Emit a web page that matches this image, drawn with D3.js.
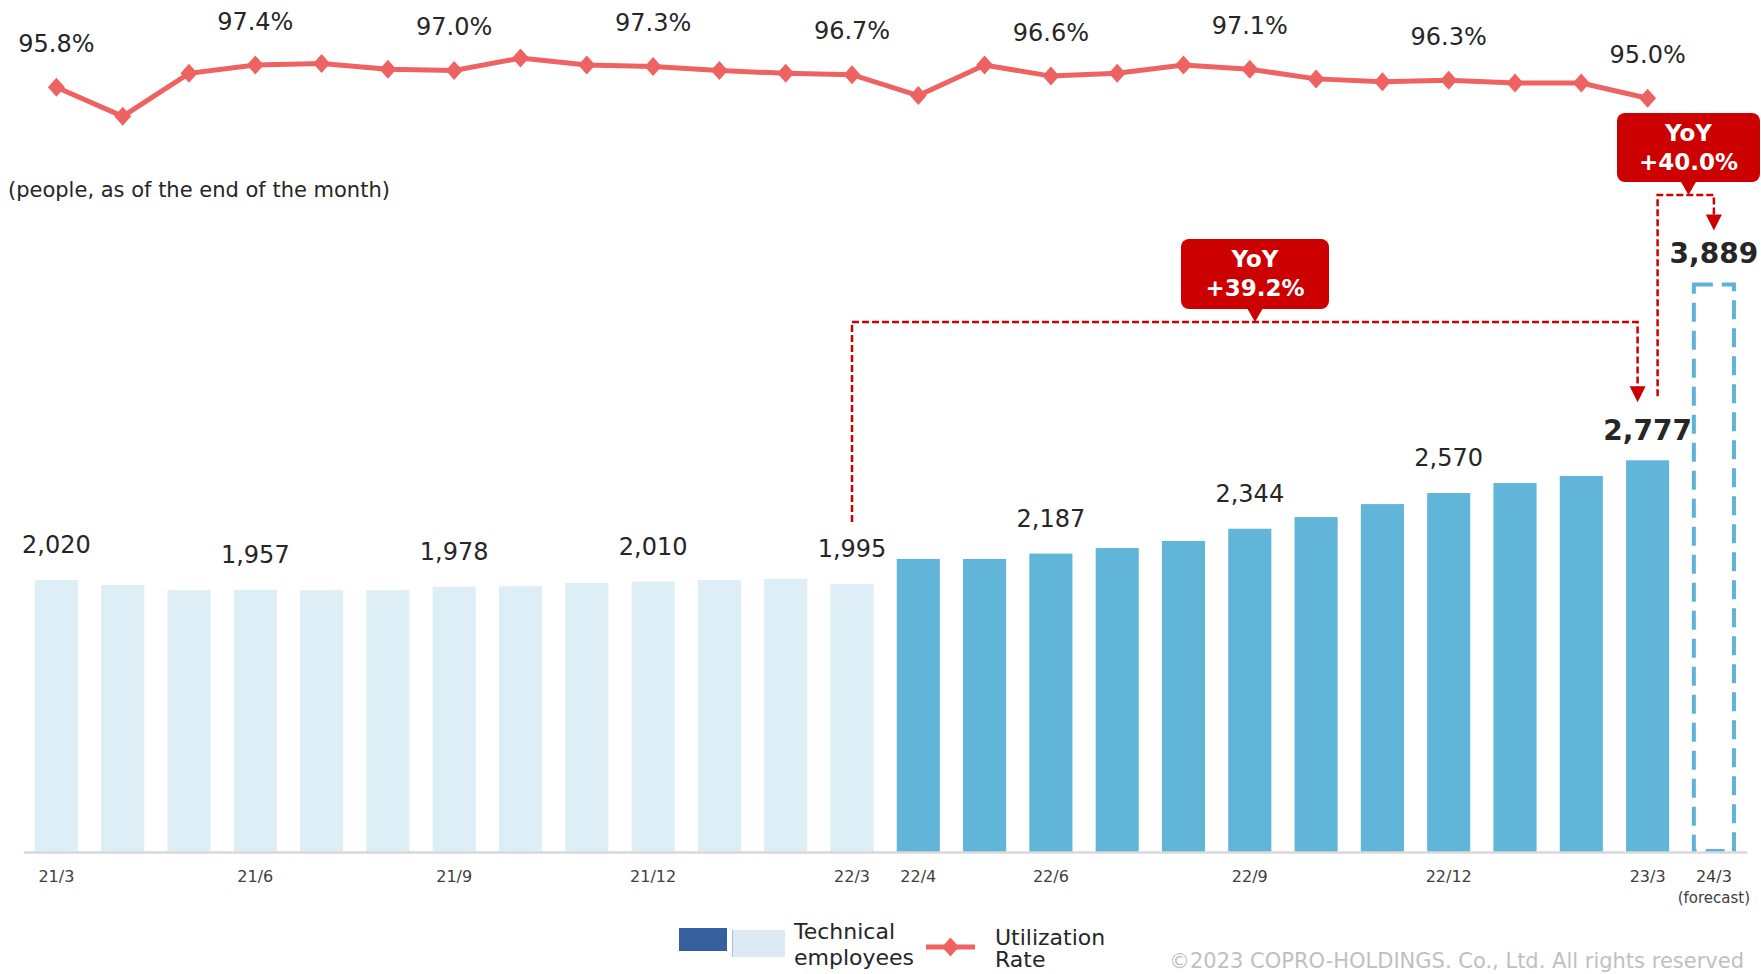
<!DOCTYPE html>
<html><head><meta charset="utf-8">
<script src="https://cdn.jsdelivr.net/npm/d3@7"></script>
<style>body{margin:0;background:#fff}svg{display:block;font-family:"DejaVu Sans",Verdana,sans-serif}</style>
</head><body><svg id="c" width="1761" height="974"></svg>
<script>
const months = ["21/3","21/4","21/5","21/6","21/7","21/8","21/9","21/10","21/11","21/12","22/1","22/2","22/3","22/4","22/5","22/6","22/7","22/8","22/9","22/10","22/11","22/12","23/1","23/2","23/3","24/3"];
const employees = [2020,1988,1956,1957,1955,1956,1978,1980,2001,2010,2020,2026,1995,2153,2153,2187,2222,2267,2344,2418,2500,2570,2633,2678,2777];
const forecastEmployees = 3889;
const utilization = [95.8,93.7,96.8,97.4,97.5,97.1,97.0,97.9,97.4,97.3,97.0,96.8,96.7,95.2,97.4,96.6,96.8,97.4,97.1,96.4,96.2,96.3,96.1,96.1,95.0];
const tickLabels = ["21/3","21/6","21/9","21/12","22/3","22/4","22/6","22/9","22/12","23/3","24/3"];
const labeledIdx = [0,3,6,9,12,15,18,21,24];
const yoyLabels = ["+39.2%","+40.0%"];

const svg = d3.select("#c");
const x = d3.scaleBand().domain(months).range([23.25, 23.25 + 26*66.3]).paddingInner(0.35).paddingOuter(0.175);
const yBar = d3.scaleLinear().domain([300, 4000]).range([852, 852 - 3700*0.15814]);
const yLine = d3.scaleLinear().domain([93, 98]).range([126.05, 56.68]);
const cx = m => x(m) + x.bandwidth()/2;
const TXT = "#262626";

// bars
const bars = employees.map((v,i)=>({m:months[i], v, i}));
svg.append("g").selectAll("rect").data(bars).join("rect")
  .attr("x", d=>x(d.m)).attr("width", x.bandwidth())
  .attr("y", d=>yBar(d.v)).attr("height", d=>yBar.range()[0]-yBar(d.v))
  .attr("fill", d=> d.i<=12 ? "#ddeef6" : "#61b5d8");

// forecast dashed bar
const fm = months[25];
svg.append("rect").attr("x", x(fm)+1.5).attr("width", x.bandwidth()-3)
  .attr("y", yBar(forecastEmployees)).attr("height", yBar.range()[0]-yBar(forecastEmployees)-1)
  .attr("fill","none").attr("stroke","#5db4d7").attr("stroke-width",4).attr("stroke-dasharray","19,9");

// axis
const axis = d3.axisBottom(x).tickSize(0).tickValues(tickLabels);
const ag = svg.append("g").attr("transform","translate(0,852)").call(axis);
ag.select(".domain").attr("stroke","#d9d9d9").attr("stroke-width",2.5);
ag.selectAll("text").attr("font-size",16).attr("fill","#404040").attr("font-family","DejaVu Sans").attr("dy",0).attr("y",30);
svg.append("text").attr("x",cx(fm)).attr("y",903).attr("text-anchor","middle").attr("font-size",15).attr("fill","#404040").text("(forecast)");

// bar labels
svg.append("g").selectAll("text").data(bars.filter(d=>labeledIdx.includes(d.i))).join("text")
  .attr("x", d=>cx(d.m)).attr("y", d=> d.i===24 ? yBar(d.v)-20 : yBar(d.v)-27)
  .attr("text-anchor","middle").attr("fill",TXT)
  .attr("font-size", d=> d.i===24 ? 28 : 24).attr("font-weight", d=> d.i===24 ? "bold":"normal")
  .text(d=>d3.format(",")(d.v));
svg.append("text").attr("x",cx(fm)).attr("y",yBar(forecastEmployees)-21).attr("text-anchor","middle")
  .attr("fill",TXT).attr("font-size",28).attr("font-weight","bold").text(d3.format(",")(forecastEmployees));

// utilization line
const pts = utilization.map((v,i)=>({m:months[i], v, i}));
const LC = "#ee6262";
svg.append("path").datum(pts).attr("fill","none").attr("stroke",LC).attr("stroke-width",5)
  .attr("d", d3.line().x(d=>cx(d.m)).y(d=>yLine(d.v)));
const dia = (w,h)=>`M0,${-h}L${w},0L0,${h}L${-w},0Z`;
svg.append("g").selectAll("path").data(pts).join("path")
  .attr("transform", d=>`translate(${cx(d.m)},${yLine(d.v)})`).attr("d", dia(8.5,9.5)).attr("fill",LC);
svg.append("g").selectAll("text").data(pts.filter(d=>labeledIdx.includes(d.i))).join("text")
  .attr("x", d=>cx(d.m)).attr("y", d=>yLine(d.v)-35.5).attr("text-anchor","middle")
  .attr("font-size",24).attr("fill",TXT).text(d=>d.v.toFixed(1)+"%");

svg.append("text").attr("x",8).attr("y",197).attr("font-size",21).attr("fill",TXT).text("(people, as of the end of the month)");

// YoY annotations
const RED = "#cc0000";
function arrowPath(pts){ return d3.line()(pts); }
function callout(bx,by,bw,bh,tipY,label){
  const g = svg.append("g");
  const cxm = bx + bw/2;
  g.append("rect").attr("x",bx).attr("y",by).attr("width",bw).attr("height",bh).attr("rx",8).attr("fill",RED);
  g.append("path").attr("d",`M${cxm-8},${by+bh-1}L${cxm+8},${by+bh-1}L${cxm},${tipY}Z`).attr("fill",RED);
  g.append("text").attr("x",cxm).attr("y",by+27.5).attr("text-anchor","middle").attr("fill","#fff").attr("font-size",23).attr("font-weight","bold").text("YoY");
  g.append("text").attr("x",cxm).attr("y",by+56.5).attr("text-anchor","middle").attr("fill","#fff").attr("font-size",23).attr("font-weight","bold").text(label);
}
function arrowHead(ax,ay){
  svg.append("path").attr("d",`M${ax-8},${ay-16}L${ax+8},${ay-16}L${ax},${ay}Z`).attr("fill",RED);
}
// connector 1: 22/3 -> 23/3
const c1x0 = cx(months[12]), c1x1 = cx(months[24]) - 10, c1top = 322;
svg.append("path").attr("d", arrowPath([[c1x0, yBar(employees[12])-62],[c1x0,c1top],[c1x1,c1top],[c1x1,yBar(employees[24])-72]]))
  .attr("fill","none").attr("stroke",RED).attr("stroke-width",2.5).attr("stroke-dasharray","7,3");
arrowHead(c1x1, yBar(employees[24])-58);
callout(1181,239,148,70,322,yoyLabels[0]);
// connector 2: 23/3 -> 24/3 forecast
const c2x0 = cx(months[24]) + 10, c2x1 = cx(fm), c2top = 195;
svg.append("path").attr("d", arrowPath([[c2x0, yBar(employees[24])-64],[c2x0,c2top],[c2x1,c2top],[c2x1,yBar(forecastEmployees)-68]]))
  .attr("fill","none").attr("stroke",RED).attr("stroke-width",2.5).attr("stroke-dasharray","7,3");
arrowHead(c2x1, yBar(forecastEmployees)-54);
callout(1617,113,143,69,195,yoyLabels[1]);

// legend
const lg = svg.append("g");
lg.append("rect").attr("x",679).attr("y",928).attr("width",48).attr("height",23).attr("fill","#365f9f");
lg.append("rect").attr("x",732).attr("y",930).attr("width",53).attr("height",27).attr("fill","#dde9f5");
lg.append("line").attr("x1",732.5).attr("x2",732.5).attr("y1",930).attr("y2",957).attr("stroke","#9fc3e6").attr("stroke-width",1);
lg.append("text").attr("x",794).attr("y",939).attr("font-size",22).attr("fill",TXT).text("Technical");
lg.append("text").attr("x",794).attr("y",965).attr("font-size",22).attr("fill",TXT).text("employees");
lg.append("line").attr("x1",926).attr("x2",975).attr("y1",947).attr("y2",947).attr("stroke",LC).attr("stroke-width",5);
lg.append("path").attr("transform","translate(950.5,947)").attr("d",dia(8.5,9.5)).attr("fill",LC);
lg.append("text").attr("x",995).attr("y",945).attr("font-size",22).attr("fill",TXT).text("Utilization");
lg.append("text").attr("x",995).attr("y",967).attr("font-size",22).attr("fill",TXT).text("Rate");

svg.append("text").attr("x",1744).attr("y",968).attr("text-anchor","end").attr("font-size",21).attr("fill","#bfbfbf")
  .text("©2023 COPRO-HOLDINGS. Co., Ltd. All rights reserved");
</script></body></html>
